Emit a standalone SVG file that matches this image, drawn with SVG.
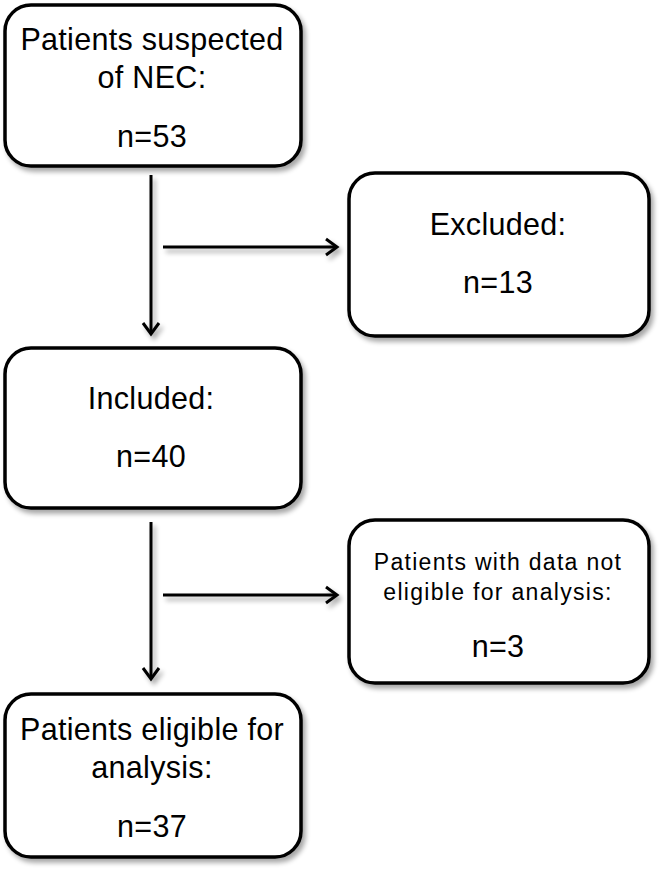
<svg xmlns="http://www.w3.org/2000/svg" width="662" height="870" viewBox="0 0 662 870">
<style>
.box{fill:#fff;stroke:#000;stroke-width:3.5}
.t{font-family:"Liberation Sans",Arial,sans-serif;font-size:30.5px;letter-spacing:0.3px;fill:#000;text-anchor:middle}
.s{font-size:23px;letter-spacing:1.3px}
.c{fill:none;stroke:#000;stroke-width:3}
</style>
<defs>
<filter id="sh" x="-10%" y="-10%" width="125%" height="125%">
<feGaussianBlur in="SourceAlpha" stdDeviation="2.5"/>
<feOffset dx="3" dy="4" result="b"/>
<feComponentTransfer><feFuncA type="linear" slope="0.35"/></feComponentTransfer>
<feMerge><feMergeNode/><feMergeNode in="SourceGraphic"/></feMerge>
</filter>
<marker id="ah" markerWidth="16" markerHeight="20" refX="13" refY="10" orient="auto" markerUnits="userSpaceOnUse">
<path d="M2,2 L13,10 L2,18" fill="none" stroke="#000" stroke-width="3"/>
</marker>
</defs>
<g id="connectors" filter="url(#sh)">
<line class="c" x1="151" y1="175" x2="151" y2="334" marker-end="url(#ah)"/>
<line class="c" x1="163" y1="247" x2="337" y2="247" marker-end="url(#ah)"/>
<line class="c" x1="151" y1="522" x2="151" y2="679" marker-end="url(#ah)"/>
<line class="c" x1="163" y1="595" x2="337" y2="595" marker-end="url(#ah)"/>
</g>
<g id="n1">
<rect class="box" filter="url(#sh)" x="5" y="5" width="296" height="161" rx="26"/>
<text class="t" x="152" y="50">Patients suspected</text>
<text class="t" x="152" y="88">of NEC:</text>
<text class="t" x="152" y="147">n=53</text>
</g>
<g id="n2">
<rect class="box" filter="url(#sh)" x="349" y="173" width="300" height="163" rx="26"/>
<text class="t" x="498" y="235">Excluded:</text>
<text class="t" x="498" y="293">n=13</text>
</g>
<g id="n3">
<rect class="box" filter="url(#sh)" x="5" y="348" width="296" height="160" rx="26"/>
<text class="t" x="151" y="409">Included:</text>
<text class="t" x="151" y="467">n=40</text>
</g>
<g id="n4">
<rect class="box" filter="url(#sh)" x="349" y="520" width="300" height="163" rx="26"/>
<text class="t s" x="498" y="570">Patients with data not</text>
<text class="t s" x="498" y="600">eligible for analysis:</text>
<text class="t" x="498" y="657">n=3</text>
</g>
<g id="n5">
<rect class="box" filter="url(#sh)" x="5" y="694" width="296" height="163" rx="26"/>
<text class="t" x="152" y="740">Patients eligible for</text>
<text class="t" x="152" y="778">analysis:</text>
<text class="t" x="152" y="837">n=37</text>
</g>
</svg>
